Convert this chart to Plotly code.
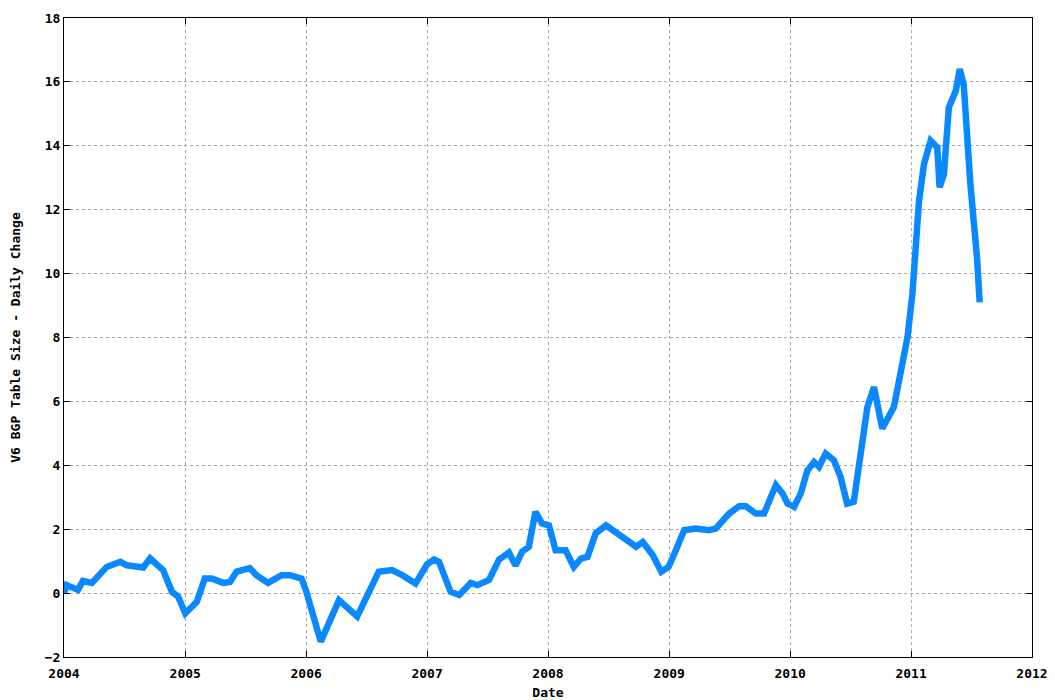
import plotly.graph_objects as go

# daily change of the V6 BGP table size
dates = [
    "2004-01-01", "2004-01-09", "2004-02-12", "2004-02-27", "2004-03-25", "2004-05-09",
    "2004-06-19", "2004-07-09", "2004-08-27", "2004-09-17", "2004-10-26", "2004-11-22",
    "2004-12-10", "2005-01-01", "2005-02-05", "2005-03-01", "2005-03-22", "2005-04-25",
    "2005-05-16", "2005-06-05", "2005-07-15", "2005-08-04", "2005-09-08", "2005-10-19",
    "2005-11-13", "2005-12-18", "2006-01-01", "2006-02-14", "2006-04-10", "2006-06-04",
    "2006-08-08", "2006-09-17", "2006-10-18", "2006-11-27", "2007-01-01", "2007-01-22",
    "2007-02-06", "2007-03-13", "2007-04-08", "2007-05-13", "2007-06-02", "2007-07-07",
    "2007-08-06", "2007-09-05", "2007-09-25", "2007-10-15", "2007-11-04", "2007-11-24",
    "2007-12-14", "2008-01-04", "2008-01-24", "2008-02-23", "2008-03-19", "2008-04-09",
    "2008-04-29", "2008-05-24", "2008-06-24", "2008-07-14", "2008-08-13", "2008-09-23",
    "2008-10-13", "2008-11-12", "2008-12-08", "2008-12-30", "2009-01-21", "2009-02-15",
    "2009-03-22", "2009-05-01", "2009-05-21", "2009-07-01", "2009-07-31", "2009-08-20",
    "2009-09-19", "2009-10-14", "2009-11-19", "2009-12-09", "2009-12-24", "2010-01-13",
    "2010-02-02", "2010-02-22", "2010-03-14", "2010-03-29", "2010-04-18", "2010-05-13",
    "2010-06-02", "2010-06-22", "2010-07-12", "2010-07-27", "2010-08-22", "2010-09-11",
    "2010-10-06", "2010-11-10", "2010-12-01", "2010-12-16", "2010-12-21", "2011-01-05",
    "2011-01-25", "2011-02-09", "2011-03-01", "2011-03-21", "2011-03-28", "2011-04-10",
    "2011-04-25", "2011-05-16", "2011-05-28", "2011-06-09", "2011-06-29", "2011-07-19",
    "2011-07-27",
]
values = [
    0.0, 0.25, 0.1, 0.38, 0.32, 0.82,
    0.98, 0.87, 0.8, 1.09, 0.72, 0.04,
    -0.1, -0.63, -0.27, 0.46, 0.46, 0.32,
    0.35, 0.67, 0.78, 0.56, 0.32, 0.56,
    0.56, 0.45, 0.06, -1.52, -0.22, -0.73,
    0.67, 0.72, 0.56, 0.3, 0.9, 1.05,
    0.98, 0.04, -0.06, 0.32, 0.25, 0.41,
    1.05, 1.27, 0.86, 1.3, 1.45, 2.54,
    2.18, 2.12, 1.34, 1.34, 0.82, 1.08,
    1.13, 1.87, 2.12, 1.97, 1.71, 1.45,
    1.6, 1.19, 0.67, 0.82, 1.34, 1.97,
    2.02, 1.97, 2.02, 2.49, 2.72, 2.72,
    2.49, 2.49, 3.38, 3.12, 2.8, 2.7,
    3.12, 3.84, 4.1, 3.95, 4.37, 4.16,
    3.64, 2.8, 2.86, 4.05, 5.82, 6.45,
    5.15, 5.82, 6.97, 7.54, 8.0, 9.36,
    12.28, 13.43, 14.16, 13.95, 12.7, 13.11,
    15.2, 15.72, 16.4, 15.9, 12.8, 10.5,
    9.1,
]

font = dict(family='DejaVu Sans Mono', size=13, color='#000000', weight='bold')

fig = go.Figure()
fig.add_trace(go.Scatter(
    x=dates, y=values, mode='lines',
    line=dict(color='#0a88ff', width=6.5),
    showlegend=False,
))

axis_style = dict(
    showline=True, linecolor='#000000', linewidth=1, mirror='ticks',
    ticks='inside', ticklen=6, tickcolor='#000000',
    showgrid=True, gridcolor='#aaaaaa', gridwidth=1, griddash='dot',
    zeroline=False, tickfont=font,
)

# page body adds 8px around the plot, so the figure is a bit smaller than the window
fig.update_layout(
    width=1047, height=692,
    margin=dict(l=56, r=23, t=10, b=43),
    paper_bgcolor='white', plot_bgcolor='white',
    font=font,
    xaxis=dict(
        range=['2004-01-01', '2012-01-01'], dtick='M12', tickformat='%Y',
        ticklabelstandoff=4,
        title=dict(text='Date', font=font, standoff=10),
        automargin=False, **axis_style,
    ),
    yaxis=dict(
        range=[-2, 18], dtick=2,
        title=dict(text='V6 BGP Table Size - Daily Change', font=font, standoff=26),
        automargin=False, **axis_style,
    ),
)

fig.write_html("out.html")
